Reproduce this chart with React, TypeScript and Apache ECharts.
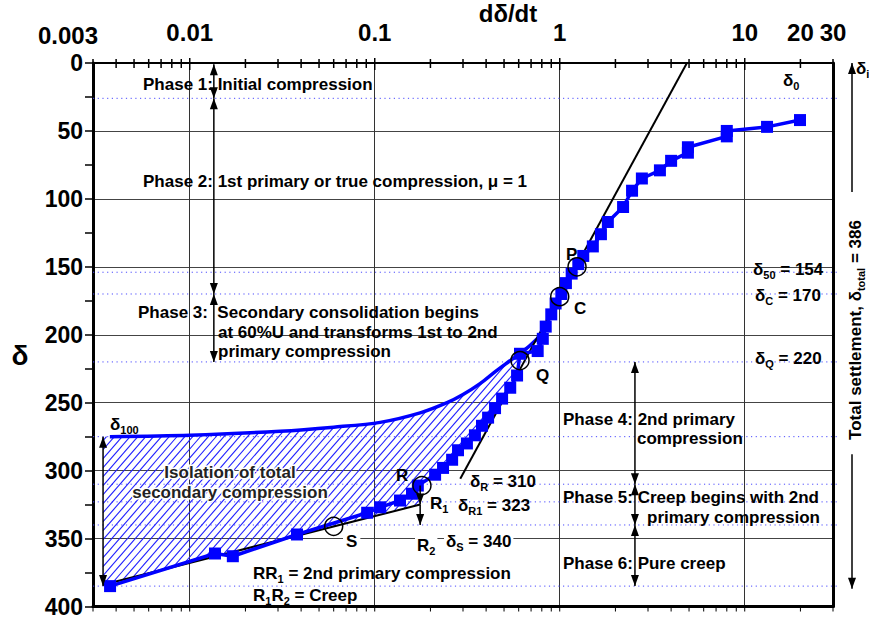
import React, { useEffect, useRef } from 'react';
import * as echarts from 'echarts';

const FONT = '"Liberation Sans", Arial, Helvetica, sans-serif';
const BLUE = '#0000ff';

// Measured curve: rate of settlement dδ/dt versus settlement δ
const rateData = [19.9, 13.2, 8.0, 8.0, 4.93, 4.93, 4.0, 3.48, 2.78, 2.46, 2.2, 1.82, 1.67, 1.51, 1.34, 1.26, 1.16, 1.08, 1.02, 0.95, 0.9, 0.84, 0.81, 0.76, 0.61, 0.588, 0.54, 0.488, 0.447, 0.41, 0.38, 0.348, 0.315, 0.282, 0.262, 0.234, 0.212, 0.171, 0.159, 0.137, 0.107, 0.091, 0.038, 0.0171, 0.0137, 0.00371];
const settlementData = [42, 47, 50, 54, 62, 66, 72, 79, 85, 94, 106, 117, 126, 135, 142, 148, 155, 162, 170, 177, 185, 194, 203, 212, 214, 230, 239, 247, 254, 261, 267, 274, 280, 285, 292, 298, 303, 311, 317, 322, 327, 331, 347, 363, 361, 385];

// Upper envelope bounding the hatched area
const upperRate = [0.0037, 0.01, 0.0308, 0.06, 0.107, 0.176, 0.246, 0.3, 0.371, 0.45, 0.559, 0.69, 0.85];
const upperSettle = [275, 274, 271, 268, 264.5, 257.5, 250, 244, 236, 227, 217.5, 208, 196];

// Straight construction lines
const tangentRate = [4.87, 0.29];
const tangentSettle = [0, 306];
const creepRate = [0.0034, 0.176];
const creepSettle = [384, 325];

// Reference settlement levels (dotted)
const dottedLevels = [26, 154, 170, 220, 275, 310, 323, 340, 385];

// Top axis labels
const xTickValues = [0.003, 0.01, 0.1, 1, 10, 20, 30];
const xTickLabels = ['0.003', '0.01', '0.1', '1', '10', '20', '30'];

// Phase arrows
const leftPhaseRate = 0.0135;
const leftPhaseBounds = [1, 26, 170, 220];
const rightPhaseRate = 2.55;
const rightPhaseBounds = [220, 310, 340, 385];
const delta100Rate = 0.0034;
const delta100Bounds = [275, 385];
const rArrowRate = 0.176;
const rArrowBounds = [311, 325, 340];
const totalArrowBounds = [[95, 0], [288, 387]];

// Marked points
const pointRates = [1.24, 1.0, 0.61, 0.18, 0.06];
const pointSettle = [150, 172, 219, 311, 341];

const FS = 17;
const rich: any = {
  b: { fontSize: FS, fontWeight: 'bold', fontFamily: FONT, lineHeight: 22, fill: '#000' },
  s: { fontSize: 11, fontWeight: 'bold', fontFamily: FONT, lineHeight: 10, verticalAlign: 'bottom', fill: '#000' },
};

function txt(x: number, y: number, text: string, extra: any = {}, el: any = {}) {
  return {
    type: 'text', x, y, z: 100, ...el,
    style: { text, rich, font: `bold ${FS}px ${FONT}`, fill: '#000', align: 'left', verticalAlign: 'middle', ...extra },
  };
}

function arrowHead(x: number, y: number, dir: number) {
  return { type: 'polygon', shape: { points: [[x, y], [x - 4, y - dir * 11], [x + 4, y - dir * 11]] }, style: { fill: '#000' } };
}

function renderHatch(params: any, api: any) {
  const c = (x: number, y: number) => api.coord([x, y]);
  const children: any[] = [];
  const x0 = c(0.003, 0)[0];
  const x1 = c(30, 0)[0] + 5;
  dottedLevels.forEach((lv) => {
    const y = c(1, lv)[1];
    children.push({ type: 'line', shape: { x1: x0, y1: y, x2: x1, y2: y }, style: { stroke: '#4a4aff', lineWidth: 1, lineDash: [1.2, 3.5] } });
  });
  const poly: number[][] = [];
  poly.push(c(delta100Rate, upperSettle[0]));
  upperRate.forEach((r, i) => poly.push(c(r, upperSettle[i])));
  const last = upperSettle[upperSettle.length - 1];
  rateData.forEach((r, i) => {
    const s = settlementData[i];
    if (s > last && s <= rArrowBounds[0]) poly.push(c(r, s));
  });
  poly.push(c(creepRate[1], creepSettle[1]));
  poly.push(c(creepRate[0], creepSettle[0]));
  const k = 1.15;
  let minC = Infinity, maxC = -Infinity;
  poly.forEach((p) => { const v = p[1] + k * p[0]; minC = Math.min(minC, v); maxC = Math.max(maxC, v); });
  for (let cc = minC + 4; cc < maxC; cc += 9) {
    const xs: number[] = [];
    for (let i = 0; i < poly.length; i++) {
      const p1 = poly[i], p2 = poly[(i + 1) % poly.length];
      const f1 = p1[1] + k * p1[0] - cc, f2 = p2[1] + k * p2[0] - cc;
      if ((f1 < 0) !== (f2 < 0)) {
        const t = f1 / (f1 - f2);
        xs.push(p1[0] + t * (p2[0] - p1[0]));
      }
    }
    xs.sort((a, b) => a - b);
    for (let j = 0; j + 1 < xs.length; j += 2) {
      children.push({ type: 'line', shape: { x1: xs[j], y1: cc - k * xs[j], x2: xs[j + 1], y2: cc - k * xs[j + 1] }, style: { stroke: '#1f1fff', lineWidth: 1.1 } });
    }
  }
  return { type: 'group', children };
}

function renderOverlay(params: any, api: any) {
  const c = (x: number, y: number) => api.coord([x, y]);
  const children: any[] = [];
  const yTop = c(1, 0)[1];
  const yBot = c(1, 400)[1];
  for (let e = -3; e <= 1; e++) {
    for (let m = 1; m <= 9; m++) {
      const v = m * Math.pow(10, e);
      if (v < 0.003 * 0.999 || v > 30 * 1.001) continue;
      const x = c(v, 0)[0];
      const major = m === 1;
      children.push({ type: 'line', shape: { x1: x, y1: yTop - (major ? 5 : 4), x2: x, y2: yTop + (major ? 7 : 5) }, style: { stroke: '#000', lineWidth: 1.5 } });
      children.push({ type: 'line', shape: { x1: x, y1: yBot, x2: x, y2: yBot + 5 }, style: { stroke: '#000', lineWidth: 1 } });
    }
  }
  xTickValues.forEach((v, i) => {
    const p = c(v, 0);
    const first = i === 0;
    children.push({
      type: 'text', x: p[0] + (first ? -25 : 0), y: p[1] - (first ? 28 : 31),
      style: { text: xTickLabels[i], font: `bold 24px ${FONT}`, fill: '#000', align: 'center', verticalAlign: 'middle' },
    });
  });
  const dbl = (rate: number, bounds: number[], both: boolean) => {
    for (let i = 0; i + 1 < bounds.length; i++) {
      const a = c(rate, bounds[i]);
      const b = c(rate, bounds[i + 1]);
      children.push({ type: 'line', shape: { x1: a[0], y1: a[1], x2: b[0], y2: b[1] }, style: { stroke: '#000', lineWidth: 1.5 } });
      if (both) children.push(arrowHead(a[0], a[1], -1));
      children.push(arrowHead(b[0], b[1], 1));
    }
  };
  dbl(leftPhaseRate, leftPhaseBounds, true);
  dbl(rightPhaseRate, rightPhaseBounds, true);
  dbl(delta100Rate, delta100Bounds, true);
  dbl(rArrowRate, rArrowBounds, false);
  const xr = c(30, 0)[0] + 19;
  totalArrowBounds.forEach(([from, to]) => {
    const a = c(30, from)[1];
    const b = c(30, to)[1];
    children.push({ type: 'line', shape: { x1: xr, y1: a, x2: xr, y2: b }, style: { stroke: '#000', lineWidth: 1.5 } });
    children.push(arrowHead(xr, b, b > a ? 1 : -1));
  });
  pointRates.forEach((r, i) => {
    const p = c(r, pointSettle[i]);
    children.push({ type: 'circle', shape: { cx: p[0], cy: p[1], r: 9 }, style: { fill: 'transparent', stroke: '#000', lineWidth: 1.5 } });
  });
  return { type: 'group', children };
}

export default function App() {
  const ref = useRef<HTMLDivElement>(null);
  useEffect(() => {
    if (!ref.current) return;
    const chart = echarts.init(ref.current, undefined, { renderer: 'svg' });
    const axisLineStyle = (w: number) => ({ show: true, onZero: false, lineStyle: { color: '#000', width: w } });
    const option: any = {
      animation: false,
      backgroundColor: '#fff',
      grid: { left: 93, right: 36, top: 63, bottom: 8 },
      xAxis: [
        {
          type: 'log', logBase: 10, min: 0.003, max: 30, position: 'top',
          axisLine: axisLineStyle(2), axisTick: { show: false }, axisLabel: { show: false },
          splitLine: { show: true, lineStyle: { color: '#333', width: 1 } },
        },
        {
          type: 'log', logBase: 10, min: 0.003, max: 30, position: 'bottom',
          axisLine: axisLineStyle(3), axisTick: { show: false }, axisLabel: { show: false }, splitLine: { show: false },
        },
      ],
      yAxis: [
        {
          type: 'value', inverse: true, min: 0, max: 400, interval: 50, position: 'left',
          axisLine: axisLineStyle(3),
          axisTick: { show: true, inside: false, length: 8, lineStyle: { color: '#000', width: 1.5 } },
          minorTick: { show: true, splitNumber: 2, length: 8, lineStyle: { color: '#000', width: 1.5 } },
          axisLabel: { fontSize: 23, fontWeight: 'bold', fontFamily: FONT, color: '#000', margin: 10 },
          splitLine: { show: true, lineStyle: { color: '#444', width: 1 } },
        },
        {
          type: 'value', inverse: true, min: 0, max: 400, position: 'right',
          axisLine: axisLineStyle(3), axisTick: { show: false }, axisLabel: { show: false }, splitLine: { show: false },
        },
      ],
      series: [
        { type: 'custom', z: 2, silent: true, clip: false, renderItem: renderHatch, data: [[1, 100]] },
        {
          type: 'line', z: 3, silent: true, symbol: 'none', smooth: 0.3,
          data: upperRate.map((r, i) => [r, upperSettle[i]]),
          lineStyle: { color: BLUE, width: 3.5 },
        },
        {
          type: 'line', z: 4, silent: true, symbol: 'none',
          data: creepRate.map((r, i) => [r, creepSettle[i]]),
          lineStyle: { color: '#000', width: 2 },
        },
        {
          type: 'line', z: 4, silent: true, symbol: 'none',
          data: tangentRate.map((r, i) => [r, tangentSettle[i]]),
          lineStyle: { color: '#000', width: 2 },
        },
        {
          type: 'line', z: 5, silent: true, symbol: 'rect', symbolSize: 12,
          data: rateData.map((r, i) => [r, settlementData[i]]),
          itemStyle: { color: BLUE },
          lineStyle: { color: BLUE, width: 3.5 },
        },
        { type: 'custom', z: 6, silent: true, clip: false, renderItem: renderOverlay, data: [[1, 100]] },
      ],
      graphic: [
        txt(508, 13, 'dδ/dt', { font: `bold 24px ${FONT}`, align: 'center' }),
        txt(20, 355, 'δ', { font: `bold 28px ${FONT}`, align: 'center' }),
        txt(143, 84, 'Phase 1: Initial compression'),
        txt(143, 181, 'Phase 2: 1st primary or true compression, μ = 1'),
        txt(138, 312, 'Phase 3:  Secondary consolidation begins'),
        txt(218, 332, 'at 60%U and transforms 1st to 2nd'),
        txt(218, 351, 'primary compression'),
        txt(110, 424, '{b|δ}{s|100}'),
        txt(230, 472, 'Isolation of total', { align: 'center', fill: '#222', stroke: '#fff', lineWidth: 3 }),
        txt(230, 492, 'secondary compression', { align: 'center', fill: '#222', stroke: '#fff', lineWidth: 3 }),
        txt(396, 475, 'R'),
        txt(470, 481, '{b|δ}{s|R}{b| = 310}'),
        txt(430, 503, '{b|R}{s|1}'),
        txt(458, 505, '{b|δ}{s|R1}{b| = 323}'),
        txt(415, 545, '{b|R}{s|2}', { backgroundColor: '#fff', padding: [0, 2] }),
        txt(444, 541, '{b|δ}{s|S}{b| = 340}', { backgroundColor: '#fff', padding: [0, 2] }),
        txt(343, 541, 'S', { backgroundColor: '#fff', padding: [0, 3] }),
        txt(253, 573, '{b|RR}{s|1}{b| = 2nd primary compression}'),
        txt(253, 595, '{b|R}{s|1}{b|R}{s|2}{b| = Creep}'),
        txt(566, 254, 'P'),
        txt(574, 308, 'C'),
        txt(536, 375, 'Q'),
        txt(783, 80, '{b|δ}{s|0}'),
        txt(753, 269, '{b|δ}{s|50}{b| = 154}'),
        txt(755, 295, '{b|δ}{s|C}{b| = 170}'),
        txt(755, 358, '{b|δ}{s|Q}{b| = 220}'),
        txt(563, 419, 'Phase 4: 2nd primary'),
        txt(637, 438, 'compression'),
        txt(563, 497, 'Phase 5: Creep begins with 2nd'),
        txt(647, 517, 'primary compression'),
        txt(563, 563, 'Phase 6: Pure creep'),
        txt(856, 68, '{b|δ}{s|i}'),
        txt(855, 330, '{b|Total settlement, δ}{s|total}{b| = 386}', { align: 'center' }, { rotation: Math.PI / 2 }),
      ],
    };
    chart.setOption(option);
    return () => chart.dispose();
  }, []);
  return <div ref={ref} style={{ position: 'absolute', left: 0, top: 0, width: 869, height: 618 }} />;
}
